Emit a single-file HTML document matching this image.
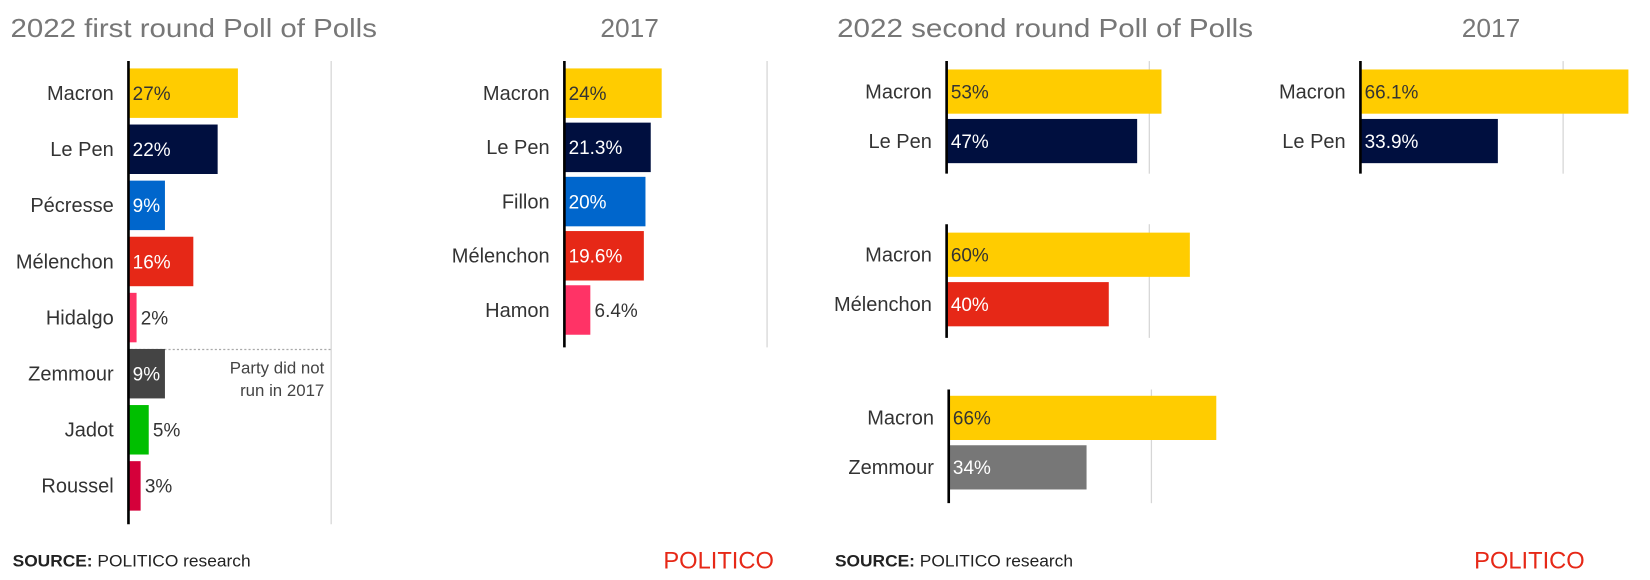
<!DOCTYPE html>
<html><head><meta charset="utf-8"><style>
html,body{margin:0;padding:0;background:#fff;}
svg{display:block;font-family:"Liberation Sans",sans-serif;}
</style></head><body>
<svg id="chart" width="1650" height="580" viewBox="0 0 1567 551" preserveAspectRatio="none" xmlns="http://www.w3.org/2000/svg">
<text x="10" y="35" font-size="25" fill="#777" textLength="348" lengthAdjust="spacingAndGlyphs">2022 first round Poll of Polls</text>
<text x="598" y="35" font-size="25" fill="#777" text-anchor="middle">2017</text>
<text x="795" y="35" font-size="25" fill="#777" textLength="395" lengthAdjust="spacingAndGlyphs">2022 second round Poll of Polls</text>
<text x="1416" y="35" font-size="25" fill="#777" text-anchor="middle">2017</text>
<line x1="124" y1="332" x2="315" y2="332" stroke="#aaa" stroke-width="1.2" stroke-dasharray="2,2"/>
<text x="308" y="355" font-size="16" fill="#444" text-anchor="end">Party did not</text>
<text x="308" y="376" font-size="16" fill="#444" text-anchor="end">run in 2017</text>
<text x="12" y="538" font-size="16" fill="#222" textLength="226" lengthAdjust="spacingAndGlyphs"><tspan font-weight="bold">SOURCE:</tspan> POLITICO research</text>
<text x="630" y="540" font-size="23" fill="#E62817" textLength="105" lengthAdjust="spacingAndGlyphs">POLITICO</text>
<text x="793" y="538" font-size="16" fill="#222" textLength="226" lengthAdjust="spacingAndGlyphs"><tspan font-weight="bold">SOURCE:</tspan> POLITICO research</text>
<text x="1400" y="540" font-size="23" fill="#E62817" textLength="105" lengthAdjust="spacingAndGlyphs">POLITICO</text>
</svg>
<script>
const p1Names = ["Macron","Le Pen","Pécresse","Mélenchon","Hidalgo","Zemmour","Jadot","Roussel"];
const p1Values = [27,22,9,16,2,9,5,3];
const p1Colors = ["#FFCC00","#000F3F","#0066CC","#E62817","#FF3366","#444444","#00BF00","#D5003A"];
const p2Names = ["Macron","Le Pen","Fillon","Mélenchon","Hamon"];
const p2Values = [24,21.3,20,19.6,6.4];
const p2Colors = ["#FFCC00","#000F3F","#0066CC","#E62817","#FF3366"];
const g1Names = ["Macron","Le Pen"]; const g1Values = [53,47]; const g1Colors = ["#FFCC00","#000F3F"];
const g2Names = ["Macron","Mélenchon"]; const g2Values = [60,40]; const g2Colors = ["#FFCC00","#E62817"];
const g3Names = ["Macron","Zemmour"]; const g3Values = [66,34]; const g3Colors = ["#FFCC00","#777777"];
const g4Names = ["Macron","Le Pen"]; const g4Values = [66.1,33.9]; const g4Colors = ["#FFCC00","#000F3F"];

const svg = document.getElementById('chart');
const NS = "http://www.w3.org/2000/svg";
function mk(tag, attrs){const e=document.createElementNS(NS,tag);for(const k in attrs)e.setAttribute(k,attrs[k]);svg.appendChild(e);return e;}
const darkBg = ["#000F3F","#0066CC","#E62817","#444444","#777777"];

function panel(key, names, values, colors, ax, top, bottom, rowTop, step, barH){
  const scale = 3.85;
  const x = v => ax + v*scale;
  const g = mk('line',{x1:x(50),y1:top,x2:x(50),y2:bottom,stroke:'#d6d6d6','stroke-width':1.2});
  
  
  names.forEach((n,i)=>{
    const y = rowTop + i*step;
    const r = mk('rect',{x:ax,y:y,width:x(values[i])-ax,height:barH,fill:colors[i]});
    
    
    const cy = y + barH/2 + 6.5;
    const l = mk('text',{x:ax-14,y:cy,'font-size':19,fill:'#333','text-anchor':'end'});
    l.textContent = n;
    
    
    const bw = x(values[i])-ax;
    const inside = bw > 30;
    const v = mk('text',{x: inside? ax+4 : x(values[i])+4, y:cy,'font-size':18,
      fill: inside ? (darkBg.includes(colors[i])?'#fff':'#333') : '#333'});
    v.textContent = values[i]+'%';
    
    
  });
  const a = mk('line',{x1:ax,y1:top,x2:ax,y2:bottom,stroke:'#000','stroke-width':2.5});
  
  
}
panel('first-round', p1Names, p1Values, p1Colors, 122, 58, 498, 65, 53.3, 47);
panel('first-2017', p2Names, p2Values, p2Colors, 536, 58, 330, 65, 51.5, 47);
panel('second-lepen', g1Names, g1Values, g1Colors, 899, 58, 165, 66, 47, 42);
panel('second-melenchon', g2Names, g2Values, g2Colors, 899, 213, 321, 221, 47, 42);
panel('second-zemmour', g3Names, g3Values, g3Colors, 901, 370, 478, 376, 47, 42);
panel('second-2017', g4Names, g4Values, g4Colors, 1292, 58, 165, 66, 47, 42);
</script>
</body></html>
